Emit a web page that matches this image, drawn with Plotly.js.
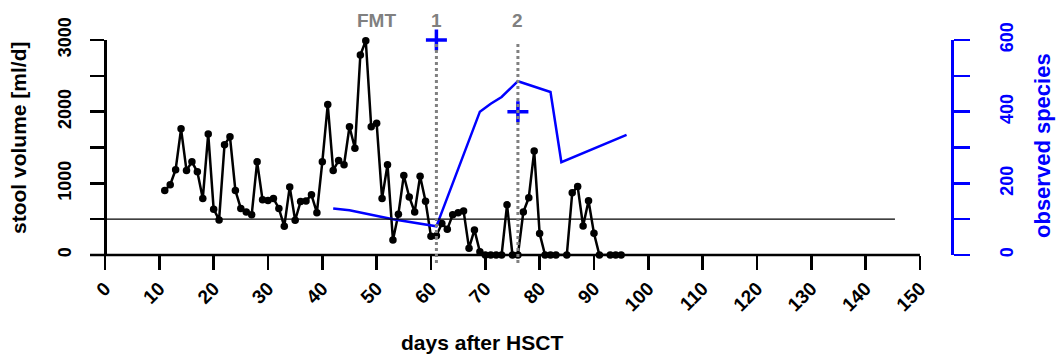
<!DOCTYPE html>
<html>
<head>
<meta charset="utf-8">
<script src="https://cdn.plot.ly/plotly-3.0.1.min.js"></script>
<style>html,body{margin:0;padding:0;background:#fff;}#chart{width:1061px;height:359px;}</style>
</head>
<body>
<div id="chart"></div>
<script>
// stool volume [ml/d] by day after HSCT
const stoolDays = [11,12,13,14,15,16,17,18,19,20,21,22,23,24,25,26,27,28,29,30,31,32,33,34,35,36,37,38,39,40,41,42,43,44,45,46,47,48,49,50,51,52,53,54,55,56,57,58,59,60,61,62,63,64,65,66,67,68,69,70,71,72,73,74,75,76,77,78,79,80,81,82,83,85,86,87,88,89,90,91,93,94,95];
const stoolVolume = [900,980,1190,1760,1180,1300,1160,790,1690,640,490,1540,1650,900,650,600,560,1300,770,760,790,650,400,950,485,745,755,840,590,1300,2100,1180,1320,1260,1790,1490,2790,2990,1790,1840,790,1260,210,570,1110,810,600,1100,750,260,270,440,360,560,590,615,95,350,45,0,0,0,0,700,0,0,600,800,1450,300,0,0,0,0,870,955,405,757,302,0,0,0,0];
// observed species
const speciesDays = [42,45,53,61,69,71,73,76,82,84,96];
const observedSpecies = [130,125,100,80,400,422,441,485,455,259,335];
// sequencing samples marked with "+"
const plusDays = [61,76];
const plusSpecies = [600,400];
// event labels
const eventDays = [50,61,76];
const eventLabels = ["FMT","1","2"];
const dottedDays = [61,76];
const xTicks = [0,10,20,30,40,50,60,70,80,90,100,110,120,130,140,150];
const yTicks = [0,500,1000,1500,2000,2500,3000];
const yTickText = ["0","","1000","","2000","","3000"];
const y2Ticks = [0,100,200,300,400,500,600];
const y2TickText = ["0","","200","","400","","600"];
const threshold = 500;

const FONT = "Liberation Sans, Arial, sans-serif";
const xMin = -2.761, xMax = 155.9;
const yPos = (0 - xMin) / (xMax - xMin);

const traces = [
  {x: stoolDays, y: stoolVolume, type: 'scatter', mode: 'lines+markers',
   line: {color: '#000', width: 2.5}, marker: {color: '#000', size: 7.5},
   cliponaxis: false, hoverinfo: 'skip'},
  {x: speciesDays, y: observedSpecies, type: 'scatter', mode: 'lines', yaxis: 'y2',
   line: {color: '#0000ff', width: 2.5}, cliponaxis: false, hoverinfo: 'skip'},
  {x: plusDays, y: plusSpecies, type: 'scatter', mode: 'markers', yaxis: 'y2',
   marker: {symbol: 'cross-thin', size: 15, color: '#0000ff', line: {color: '#0000ff', width: 3.5}},
   cliponaxis: false, hoverinfo: 'skip'}
];

const shapes = [
  {type: 'line', xref: 'x', yref: 'paper', x0: xMin, x1: 150, y0: 0, y1: 0, line: {color: '#000', width: 2.5}},
  {type: 'line', xref: 'x', yref: 'y', x0: 0, x1: 145.4, y0: threshold, y1: threshold, line: {color: '#000', width: 1.3}}
];
dottedDays.forEach(d => shapes.push({type: 'line', xref: 'x', yref: 'paper', x0: d, x1: d, y0: -0.037, y1: 0.986,
  line: {color: '#808080', width: 3, dash: 'dot'}}));

const annotations = [
  {text: 'stool volume [ml/d]', xref: 'paper', yref: 'paper', x: (18-90)/862, y: (255-138)/215, textangle: -90,
   showarrow: false, xanchor: 'center', yanchor: 'middle', font: {family: FONT, size: 21, weight: 'bold', color: '#000'}},
  {text: 'observed species', xref: 'paper', yref: 'paper', x: (1042-90)/862, y: (255-146)/215, textangle: -90,
   showarrow: false, xanchor: 'center', yanchor: 'middle', font: {family: FONT, size: 22, weight: 'bold', color: '#0000ff'}},
  {text: 'days after HSCT', xref: 'paper', yref: 'paper', x: (482-90)/862, y: (255-342)/215,
   showarrow: false, xanchor: 'center', yanchor: 'middle', font: {family: FONT, size: 21, weight: 'bold', color: '#000'}}
];
eventDays.forEach((d, i) => annotations.push({text: eventLabels[i], xref: 'x', yref: 'paper', x: d, y: (255-20)/215,
  showarrow: false, xanchor: 'center', yanchor: 'middle', font: {family: FONT, size: 19, weight: 'bold', color: '#808080'}}));

const layout = {
  width: 1061, height: 359,
  margin: {l: 90, r: 109, t: 40, b: 104, pad: 0},
  paper_bgcolor: '#fff', plot_bgcolor: 'rgba(0,0,0,0)',
  showlegend: false,
  xaxis: {range: [xMin, xMax], showline: false, showgrid: false, zeroline: false,
    tickmode: 'array', tickvals: xTicks, ticktext: xTicks.map(String),
    ticks: 'outside', ticklen: 14, tickwidth: 2.5, tickcolor: '#000', tickangle: -45,
    tickfont: {family: FONT, size: 19, weight: 'bold', color: '#000'}},
  yaxis: {range: [0, 3000], anchor: 'free', position: yPos, showline: true, linewidth: 2.5, linecolor: '#000',
    showgrid: false, zeroline: false, tickmode: 'array', tickvals: yTicks, ticktext: yTickText,
    ticks: 'outside', ticklen: 14, tickwidth: 2.5, tickcolor: '#000', tickangle: -90, ticklabelstandoff: 12,
    tickfont: {family: FONT, size: 18, weight: 'bold', color: '#000'}},
  yaxis2: {range: [0, 600], overlaying: 'y', side: 'right', anchor: 'free', position: 1,
    showline: true, linewidth: 2.5, linecolor: '#0000ff', showgrid: false, zeroline: false,
    tickmode: 'array', tickvals: y2Ticks, ticktext: y2TickText,
    ticks: 'outside', ticklen: 16, tickwidth: 2.5, tickcolor: '#0000ff', tickangle: -90, ticklabelstandoff: 22,
    tickfont: {family: FONT, size: 18, weight: 'bold', color: '#0000ff'}},
  shapes: shapes,
  annotations: annotations
};

Plotly.newPlot('chart', traces, layout, {staticPlot: true, displayModeBar: false});
</script>
</body>
</html>
